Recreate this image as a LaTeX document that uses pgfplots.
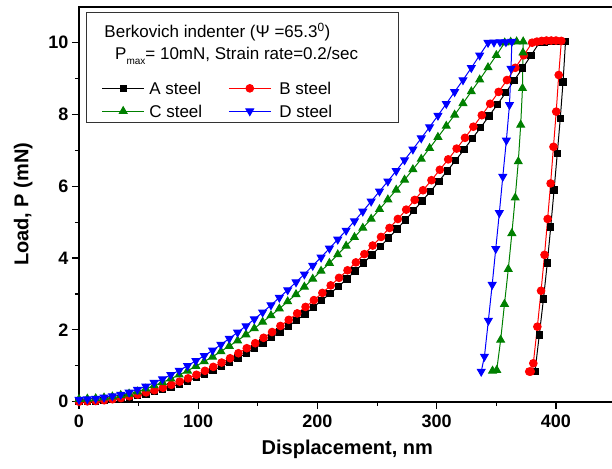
\documentclass[border=0pt]{standalone}
\usepackage{fontspec}
\setmainfont{Liberation Sans}
\usepackage{pgfplots}
\pgfplotsset{compat=1.18}
\definecolor{cgreen}{RGB}{0,128,0}
\definecolor{cblue}{RGB}{0,0,255}
\definecolor{cred}{RGB}{255,0,0}
\begin{document}
\begin{tikzpicture}
\useasboundingbox (-79pt,-66.3pt) rectangle (533pt,401.7pt);
\begin{axis}[
  scale only axis, width=536.6pt, height=394.9pt,
  xmin=0, xmax=450, ymin=0, ymax=11,
  xtick={0,100,200,300,400}, ytick={0,2,4,6,8,10},
  minor x tick num=1, minor y tick num=1,
  xtick pos=left, ytick pos=left, tick align=outside,
  major tick length=7pt, minor tick length=4pt,
  every tick/.style={black, line width=1.2pt},
  axis line style={line width=1.6pt},
  /pgf/number format/assume math mode=true,
  ticklabel style={font=\fontsize{18}{18}\selectfont\bfseries},
  xticklabel style={yshift=-3pt},
  xlabel={Displacement, nm}, ylabel={Load, P (mN)},
  label style={font=\fontsize{20}{20}\selectfont\bfseries},
  xlabel style={yshift=-5pt},
  ylabel style={yshift=9pt},
  legend columns=2,
  legend cell align=left,
  legend style={at={(axis cs:19.04,8.90)}, anchor=north west, draw=none, fill=none,
    inner sep=0pt, outer sep=0pt, font=\fontsize{17}{17}\selectfont, row sep=10.5pt,
    nodes={inner sep=0pt, text depth=0pt},
    /tikz/column 1/.style={column sep=4.6pt},
    /tikz/column 2/.style={column sep=0pt},
    /tikz/column 3/.style={column sep=8pt}},
  legend image code/.code={\draw[mark repeat=2,mark phase=2,#1] plot coordinates {(0pt,0pt) (21pt,0pt) (42pt,0pt)};},
]
% A steel
\addplot[black, line width=1pt, mark=square*, mark size=3.2pt, mark options={solid}] coordinates {
(0.0,0.00)(7.0,0.00)(14.0,0.01)(21.1,0.03)(28.1,0.06)(35.1,0.09)(42.1,0.12)(49.1,0.17)(56.1,0.22)(63.2,0.28)
(70.2,0.34)(77.2,0.41)(84.2,0.49)(91.2,0.58)(98.3,0.67)(105.3,0.76)(112.3,0.87)(119.3,0.98)(126.3,1.10)(133.3,1.22)
(140.4,1.35)(147.4,1.49)(154.4,1.63)(161.4,1.78)(168.4,1.94)(175.5,2.10)(182.5,2.27)(189.5,2.44)(196.5,2.63)(203.5,2.82)
(210.5,3.01)(217.6,3.21)(224.6,3.42)(231.6,3.64)(238.6,3.86)(245.6,4.09)(252.6,4.32)(259.7,4.56)(266.7,4.81)(273.7,5.06)
(280.7,5.32)(287.7,5.59)(294.8,5.86)(301.8,6.14)(308.8,6.43)(315.8,6.72)(322.8,7.02)(329.8,7.33)(336.9,7.64)(343.9,7.96)
(350.9,8.28)(357.9,8.61)(364.9,8.95)(372.0,9.29)(379.0,9.64)(386.0,10.00)
(390,10.02)(394,10.03)(398,10.04)(403,10.04)(408,10.03)
(405.9,8.90)(403.6,7.89)(401.1,6.92)(398.4,5.90)(395.6,4.87)(392.7,3.86)(389.5,2.86)(386.0,1.86)(382.4,0.84)
};
\addlegendentry{\makebox[79pt][l]{A steel}}
% B steel
\addplot[cred, line width=1pt, mark=*, mark size=3.8pt, mark options={solid}] coordinates {
(0.0,0.00)(7.0,0.01)(14.1,0.02)(21.1,0.04)(28.1,0.07)(35.2,0.10)(42.2,0.15)(49.3,0.20)(56.3,0.26)(63.3,0.32)
(70.4,0.39)(77.4,0.47)(84.4,0.56)(91.5,0.65)(98.5,0.75)(105.6,0.86)(112.6,0.97)(119.6,1.09)(126.7,1.21)(133.7,1.35)
(140.7,1.49)(147.8,1.63)(154.8,1.78)(161.9,1.94)(168.9,2.11)(175.9,2.28)(183.0,2.46)(190.0,2.64)(197.0,2.83)(204.1,3.03)
(211.1,3.24)(218.1,3.45)(225.2,3.66)(232.2,3.88)(239.3,4.11)(246.3,4.35)(253.3,4.59)(260.4,4.84)(267.4,5.09)(274.4,5.35)
(281.5,5.62)(288.5,5.89)(295.6,6.17)(302.6,6.46)(309.6,6.75)(316.7,7.05)(323.7,7.35)(330.7,7.66)(337.8,7.98)(344.8,8.30)
(351.9,8.63)(358.9,8.96)(365.9,9.30)(373.0,9.65)(380.0,10.00)
(384,10.03)(388,10.05)(392,10.06)(396,10.06)(400,10.06)(404.5,10.05)
(402.3,9.10)(400.2,8.08)(397.9,7.10)(395.5,6.08)(393.0,5.09)(390.4,4.09)(387.5,3.09)(384.4,2.09)(381.0,1.07)(378.8,0.84)(377.6,0.84)
};
\addlegendentry{B steel}
% C steel
\addplot[cgreen, line width=1pt, mark=triangle*, mark size=4.4pt, mark options={solid}] coordinates {
(0,0.07)(7,0.08)(14,0.09)(21,0.11)(28,0.14)(35,0.18)(42,0.22)(49,0.28)(56,0.36)(63,0.45)
(70,0.54)(77,0.64)(84,0.75)(91,0.86)(98,0.99)(105,1.12)(112,1.25)(119,1.40)(126,1.55)(133,1.70)
(140,1.87)(147,2.04)(154,2.22)(161,2.40)(168,2.59)(175,2.79)(182,2.99)(189,3.20)(196,3.42)(203,3.64)
(210,3.86)(217,4.10)(224,4.34)(231,4.58)(238,4.84)(245,5.09)(252,5.36)(259,5.63)(266,5.90)(273,6.18)
(280,6.47)(287,6.76)(294,7.06)(301,7.37)(308,7.68)(315,7.99)(322,8.31)(329,8.64)(336,8.97)(343,9.31)
(350,9.65)(357,10.00)
(362,10.02)(367,10.03)(372.5,10.03)
(372.3,9.72)(371.9,8.73)(370.4,7.71)(368.4,6.69)(365.8,5.68)(363.0,4.69)(360.0,3.69)(356.8,2.72)(353.6,1.72)(350.3,0.88)(346.8,0.86)
};
\addlegendentry{\makebox[79pt][l]{C steel}}
% D steel
\addplot[cblue, line width=1pt, mark=triangle*, mark size=4.4pt, mark options={solid, rotate=180}] coordinates {
(0,0.06)(7,0.07)(14,0.09)(21,0.12)(28,0.16)(35,0.20)(42,0.26)(49,0.34)(56,0.43)(63,0.53)
(70,0.63)(77,0.75)(84,0.87)(91,1.00)(98,1.14)(105,1.28)(112,1.43)(119,1.59)(126,1.76)(133,1.93)
(140,2.11)(147,2.30)(154,2.49)(161,2.69)(168,2.90)(175,3.11)(182,3.33)(189,3.55)(196,3.79)(203,4.02)
(210,4.27)(217,4.52)(224,4.77)(231,5.03)(238,5.30)(245,5.58)(252,5.86)(259,6.14)(266,6.43)(273,6.73)
(280,7.03)(287,7.34)(294,7.65)(301,7.97)(308,8.30)(315,8.63)(322,8.96)(329,9.30)(336,9.65)(343,10.00)
(348,10.01)(353,10.02)(358,10.02)(363,10.03)
(362.3,9.28)(361.0,8.27)(358.4,7.28)(355.4,6.27)(352.5,5.26)(349.5,4.26)(346.5,3.26)(343.3,2.26)(340.0,1.26)(337.3,0.84)
};
\addlegendentry{D steel}
\draw[line width=0.9pt, black!80] (axis cs:5.87,10.83) rectangle (axis cs:267.5,7.79);
\node[anchor=base west, inner sep=0pt, font=\fontsize{17}{17}\selectfont] at (axis cs:21.2,10.15) {Berkovich indenter (Ψ =65.3\textsuperscript{0})};
\node[anchor=base west, inner sep=0pt, font=\fontsize{17}{17}\selectfont] at (axis cs:30.2,9.52) {P\raisebox{-5pt}{\fontsize{10}{10}\selectfont max}= 10mN, Strain rate=0.2/sec};
\end{axis}
\end{tikzpicture}
\end{document}
